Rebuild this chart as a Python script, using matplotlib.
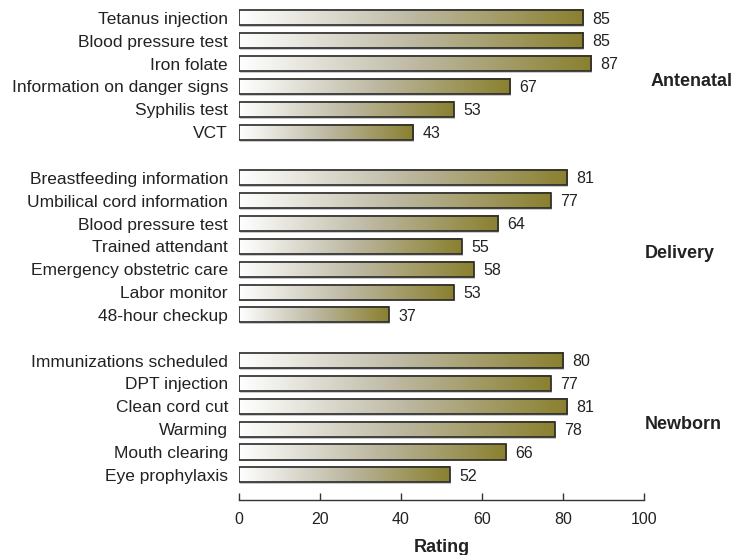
import numpy as np
import matplotlib.pyplot as plt
from matplotlib.colors import LinearSegmentedColormap
from matplotlib.patches import Rectangle

plt.rcParams['font.family'] = ['Liberation Sans', 'DejaVu Sans']

groups = ['Antenatal', 'Delivery', 'Newborn']
antenatal_labels = ['Tetanus injection', 'Blood pressure test', 'Iron folate',
                    'Information on danger signs', 'Syphilis test', 'VCT']
antenatal_values = [85, 85, 87, 67, 53, 43]
delivery_labels = ['Breastfeeding information', 'Umbilical cord information',
                   'Blood pressure test', 'Trained attendant',
                   'Emergency obstetric care', 'Labor monitor', '48-hour checkup']
delivery_values = [81, 77, 64, 55, 58, 53, 37]
newborn_labels = ['Immunizations scheduled', 'DPT injection', 'Clean cord cut',
                  'Warming', 'Mouth clearing', 'Eye prophylaxis']
newborn_values = [80, 77, 81, 78, 66, 52]
xticks = [0, 20, 40, 60, 80, 100]

grad = LinearSegmentedColormap.from_list(
    'olive', [(0, '#ffffff'), (0.5, '#bdb9a3'), (1, '#8a802f')])

# one empty slot between groups
labels, values, ypos, group_y = [], [], [], []
slot = 0
for lab, val in [(antenatal_labels, antenatal_values),
                 (delivery_labels, delivery_values),
                 (newborn_labels, newborn_values)]:
    start = slot
    for l, v in zip(lab, val):
        labels.append(l)
        values.append(v)
        ypos.append(slot)
        slot += 1
    group_y.append((start + slot - 1) / 2)
    slot += 1

fig = plt.figure(figsize=(7.46, 5.55), dpi=100)
ax = fig.add_axes([0.3204, 0.0991, 0.5429, 0.8892])

h = 0.66
strip = np.linspace(0, 1, 256).reshape(1, -1)
for y, v in zip(ypos, values):
    # soft shadow, gradient fill, outline
    ax.add_patch(Rectangle((0.25, y - h / 2 + 0.08), v, h, facecolor='#999999',
                           edgecolor='none', alpha=0.5, zorder=1))
    ax.imshow(strip, cmap=grad, aspect='auto', extent=(0, v, y + h / 2, y - h / 2),
              zorder=2, interpolation='bilinear')
    ax.add_patch(Rectangle((0, y - h / 2), v, h, facecolor='none',
                           edgecolor='#2a2a2a', linewidth=1.2, zorder=3))
    ax.text(v + 2.3, y + 0.05, str(v), va='center', ha='left', fontsize=11.5,
            color='#222222')

for g, gy, gx in zip(groups, group_y, [101.5, 100.2, 100.2]):
    ax.text(gx, gy + 0.3, g, fontsize=13, fontweight='bold', va='center',
            ha='left', color='#222222', clip_on=False)

ax.set_xlim(0, 100)
ax.set_ylim(21.1, -0.5)
ax.set_yticks(ypos)
ax.set_yticklabels(labels, fontsize=12.5, color='#222222')
ax.tick_params(axis='y', length=0, pad=8)
ax.set_xticks(xticks)
ax.set_xticklabels([str(t) for t in xticks], fontsize=11.5, color='#222222')
ax.tick_params(axis='x', direction='in', length=5, width=1, color='#333333', pad=9)
for s in ['left', 'right', 'top']:
    ax.spines[s].set_visible(False)
ax.spines['bottom'].set_color('#333333')
ax.spines['bottom'].set_linewidth(1)
ax.set_xlabel('Rating', fontsize=13, fontweight='bold', color='#222222', labelpad=8)

fig.savefig('out.png', dpi=100)
